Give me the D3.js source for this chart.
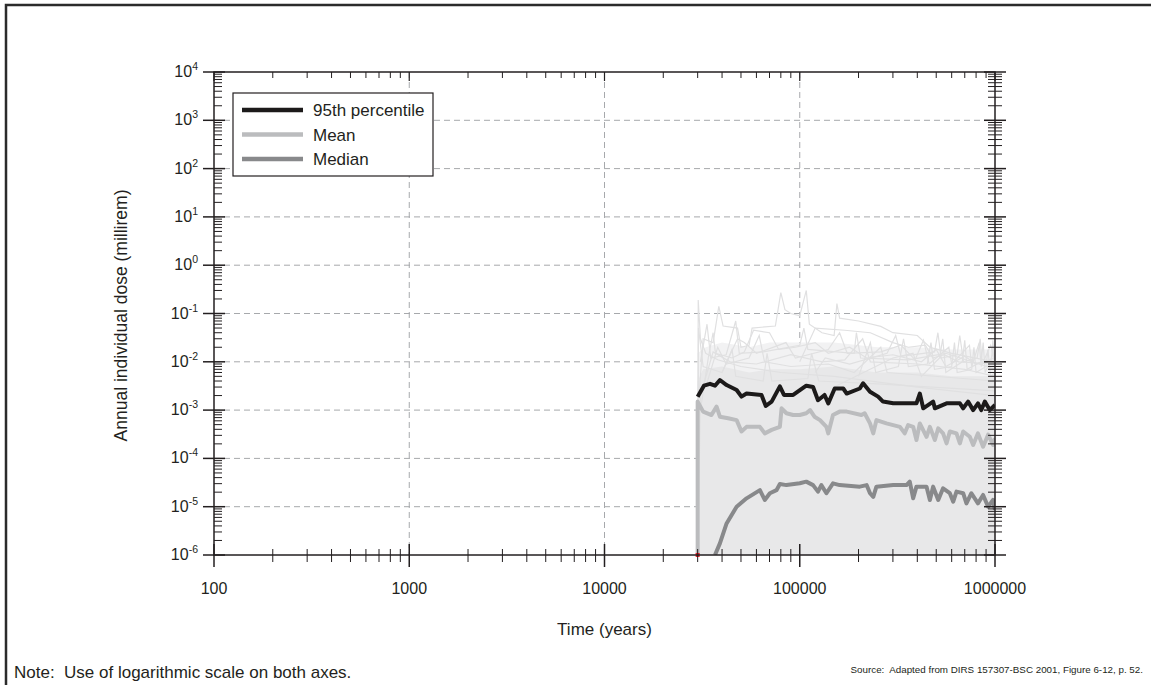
<!DOCTYPE html>
<html>
<head>
<meta charset="utf-8">
<script src="https://cdn.jsdelivr.net/npm/d3@7"></script>
<style>
    body { margin: 0; background: #fff; }
    svg text { font-family: 'Liberation Sans', Arial, Helvetica, sans-serif; fill: #231f20; }
</style>
</head>
<body>
<div id="chart"></div>
<script>
// x: time (years), y: annual individual dose (millirem)
const xTickValues = [100, 1000, 10000, 100000, 1000000];
const yExponents = [-6, -5, -4, -3, -2, -1, 0, 1, 2, 3, 4];

const percentile95 = [
    [30000, 1.9e-3], [32300, 3.2e-3], [34700, 3.5e-3], [36800, 3.2e-3], [39000, 4.2e-3],
    [42200, 3.3e-3], [47500, 2.6e-3], [50300, 1.9e-3], [53400, 2.2e-3], [63700, 2.06e-3],
    [67000, 1.22e-3], [71800, 1.5e-3], [79100, 3.1e-3], [83000, 2.06e-3], [92500, 2.06e-3],
    [108000, 3.2e-3], [117000, 3.0e-3], [124000, 1.6e-3], [134000, 2.06e-3], [140000, 1.38e-3],
    [151000, 2.8e-3], [167000, 2.8e-3], [174000, 2.2e-3], [203000, 2.8e-3], [211000, 3.6e-3],
    [229000, 2.4e-3], [252000, 1.9e-3], [267000, 1.5e-3], [301000, 1.38e-3], [396000, 1.38e-3],
    [412000, 2.2e-3], [429000, 1.09e-3], [482000, 1.5e-3], [492000, 1.09e-3], [565000, 1.38e-3],
    [661000, 1.38e-3], [687000, 1.09e-3], [728000, 1.5e-3], [773000, 1.0e-3], [818000, 1.38e-3],
    [851000, 1.0e-3], [887000, 1.5e-3], [940000, 1.0e-3], [1000000, 1.28e-3]
];

const meanDose = [
    [30000, 1e-6], [30000, 1.5e-3], [32000, 9.3e-4], [35300, 7.9e-4], [37500, 1.18e-3],
    [39000, 7.3e-4], [43000, 6.8e-4], [47500, 6.2e-4], [50300, 3.6e-4], [53400, 4.5e-4],
    [62500, 4.5e-4], [66200, 3.3e-4], [71800, 3.9e-4], [79100, 4.5e-4], [80700, 1.09e-3],
    [85500, 8.6e-4], [92500, 7.9e-4], [100000, 7.9e-4], [108000, 8.6e-4], [113000, 1.0e-3],
    [119000, 7.3e-4], [127000, 6.2e-4], [137000, 4.5e-4], [140000, 3.3e-4], [148000, 7.9e-4],
    [160000, 9.3e-4], [174000, 9.3e-4], [207000, 7.9e-4], [215000, 8.6e-4], [229000, 5.3e-4],
    [238000, 3.3e-4], [247000, 6.2e-4], [278000, 5.3e-4], [326000, 4.5e-4], [345000, 3.3e-4],
    [359000, 4.9e-4], [381000, 4.5e-4], [396000, 2.4e-4], [412000, 5.3e-4], [446000, 2.8e-4],
    [464000, 4.5e-4], [492000, 2.4e-4], [512000, 4.2e-4], [542000, 3.3e-4], [565000, 2.05e-4],
    [587000, 3.6e-4], [635000, 3.3e-4], [661000, 2.05e-4], [687000, 3.6e-4], [743000, 2.8e-4],
    [773000, 1.9e-4], [818000, 3.3e-4], [869000, 1.75e-4], [922000, 3.1e-4], [977000, 1.9e-4],
    [1000000, 2.6e-4]
];

const medianDose = [
    [36800, 1e-6], [39000, 1.74e-6], [42200, 4.5e-6], [47500, 1.0e-5], [53400, 1.49e-5],
    [62500, 2.2e-5], [66200, 1.38e-5], [70300, 1.9e-5], [76000, 2.2e-5], [79100, 2.95e-5],
    [85500, 2.8e-5], [100000, 3.05e-5], [108000, 3.3e-5], [117000, 2.8e-5], [124000, 2.05e-5],
    [129000, 2.8e-5], [137000, 1.9e-5], [148000, 3.05e-5], [160000, 2.8e-5], [203000, 2.6e-5],
    [220000, 2.8e-5], [229000, 1.9e-5], [238000, 1.6e-5], [247000, 2.6e-5], [301000, 2.8e-5],
    [352000, 2.8e-5], [366000, 3.3e-5], [381000, 1.49e-5], [396000, 2.6e-5], [446000, 2.6e-5],
    [464000, 1.38e-5], [482000, 2.6e-5], [512000, 1.38e-5], [542000, 2.4e-5], [587000, 1.9e-5],
    [611000, 1.27e-5], [635000, 2.05e-5], [687000, 1.9e-5], [714000, 1.17e-5], [757000, 1.9e-5],
    [818000, 1.17e-5], [869000, 1.75e-5], [922000, 1.0e-5], [977000, 1.38e-5], [1000000, 8.6e-6]
];

// upper edge of the dense cloud of realizations (lower edge is the axis floor)
const cloudUpper = [
    [30000, 4e-3], [32000, 7e-3], [40000, 8e-3], [55000, 6e-3], [70000, 7e-3], [100000, 7e-3],
    [150000, 8e-3], [250000, 6e-3], [400000, 6e-3], [600000, 5e-3], [1000000, 5e-3]
];

// looser upper part of the cloud
const cloudOuter = [
    [30000, 1.5e-2], [33000, 2e-2], [40000, 2.5e-2], [55000, 2e-2], [70000, 2.5e-2], [100000, 2.5e-2],
    [150000, 2.5e-2], [250000, 2e-2], [400000, 2e-2], [600000, 1.8e-2], [1000000, 1.8e-2]
];

// individual realizations standing out of the cloud
const realizations = [
    [[30000, 1e-6], [30200, 0.19], [31000, 3e-2], [33000, 1.5e-2], [38000, 1.1e-2], [50000, 8e-3],
        [80000, 6e-3], [150000, 5e-3], [400000, 3e-3], [1000000, 2e-3]],
    [[30500, 2e-3], [32000, 3e-2], [36000, 2.5e-2], [38500, 0.14], [40500, 5.5e-2], [48000, 5e-2],
        [50000, 2e-2], [55000, 2.2e-2], [57000, 5e-2], [75000, 5.5e-2], [80000, 0.27], [84000, 0.12],
        [90000, 0.1], [100000, 9e-2], [108000, 0.3], [112000, 6e-2], [130000, 4e-2], [150000, 3.5e-2],
        [155000, 0.16], [160000, 8e-2], [200000, 7e-2], [260000, 5.4e-2], [300000, 4e-2],
        [400000, 3.5e-2], [464000, 2e-2], [600000, 1.5e-2], [1000000, 1e-2]],
    [[31000, 1e-3], [34000, 1.2e-2], [36000, 4e-2], [37000, 1.5e-2], [45000, 1.2e-2], [52000, 1.6e-2],
        [58000, 4.5e-2], [70000, 4e-2], [78000, 1.8e-2], [95000, 2e-2], [120000, 2.5e-2], [140000, 1.5e-2],
        [180000, 2e-2], [220000, 1.2e-2], [300000, 1.4e-2], [420000, 1e-2], [500000, 1.8e-2],
        [560000, 8e-3], [700000, 1.3e-2], [800000, 9e-3], [1000000, 1.2e-2]],
    [[200000, 5e-3], [230000, 2.5e-2], [245000, 6e-3], [320000, 8e-3], [340000, 3e-2], [360000, 8e-3],
        [450000, 9e-3], [470000, 2.5e-2], [490000, 7e-3], [600000, 8e-3], [620000, 2.5e-2], [640000, 6e-3],
        [760000, 7e-3], [780000, 2e-2], [800000, 6e-3], [900000, 8e-3], [920000, 1.8e-2], [950000, 5e-3],
        [1000000, 6e-3]],
    [[30000, 1e-6], [30300, 5e-2], [32000, 8e-3], [40000, 6e-3], [45000, 1.8e-2], [47000, 5e-3],
        [65000, 4e-3], [68000, 1.5e-2], [72000, 4e-3], [110000, 4.5e-3], [115000, 1.5e-2], [125000, 4e-3],
        [250000, 3.5e-3], [1000000, 2.5e-3]],
    [[30000, 1e-6], [31000, 2e-3], [36000, 1.6e-2], [44000, 1e-2], [60000, 9e-3], [90000, 1.4e-2],
        [130000, 1e-2], [170000, 1.1e-2], [210000, 3e-2], [230000, 1e-2], [400000, 9e-3], [700000, 7e-3],
        [1000000, 5e-3]],
    [[150000, 3e-3], [300000, 1.2e-2], [380000, 1.5e-2], [420000, 5e-3], [520000, 1.2e-2], [540000, 3e-2],
        [560000, 6e-3], [680000, 1e-2], [700000, 2.8e-2], [720000, 7e-3], [850000, 1e-2], [870000, 2.5e-2],
        [890000, 6e-3], [980000, 1.5e-2], [1000000, 8e-3]],
    [[100000, 1e-2], [120000, 5e-2], [170000, 4.5e-2], [230000, 4e-2], [300000, 2.5e-2], [360000, 2e-2],
        [440000, 2.2e-2], [480000, 1.2e-2], [550000, 1.4e-2], [650000, 1e-2], [1000000, 9e-3]],
    [[33000, 3e-3], [38000, 2e-2], [42000, 9e-3], [55000, 1.2e-2], [62000, 3.5e-2], [66000, 1e-2],
        [90000, 8e-3], [140000, 9e-3], [190000, 6e-3], [260000, 2e-2], [280000, 6e-3], [1000000, 4e-3]],
    [[40000, 6e-3], [48000, 3e-2], [52000, 2.5e-2], [60000, 1.5e-2], [85000, 2.5e-2], [95000, 1.2e-2],
        [140000, 1.8e-2], [160000, 4e-2], [175000, 1.5e-2], [260000, 1.6e-2], [330000, 2.2e-2],
        [390000, 1.1e-2], [430000, 2.8e-2], [460000, 9e-3], [580000, 2e-2], [600000, 9e-3],
        [740000, 2.2e-2], [760000, 8e-3], [830000, 2.5e-2], [850000, 8e-3], [950000, 2.2e-2], [1000000, 1e-2]],
    [[31000, 1e-2], [33500, 6e-2], [35000, 1.2e-2], [42000, 1.4e-2], [47000, 7e-2], [49000, 1.5e-2],
        [65000, 1.6e-2], [100000, 2.2e-2], [105000, 5e-2], [110000, 1.8e-2], [190000, 1.5e-2],
        [195000, 4e-2], [205000, 1.2e-2], [360000, 1.1e-2], [560000, 1.5e-2], [1000000, 7e-3]],
    [[120000, 6e-3], [135000, 1.2e-2], [180000, 9e-3], [280000, 1.5e-2], [310000, 3.5e-2], [330000, 1.3e-2],
        [490000, 1.6e-2], [510000, 4e-2], [530000, 1.2e-2], [640000, 1.4e-2], [660000, 3.5e-2],
        [690000, 1e-2], [810000, 1.2e-2], [840000, 3e-2], [860000, 9e-3], [960000, 1.1e-2],
        [975000, 2.8e-2], [1000000, 1e-2]]
];

const legendItems = [
    {label: '95th percentile', data: percentile95, color: '#1c1a1a'},
    {label: 'Mean', data: meanDose, color: '#bbbcbe'},
    {label: 'Median', data: medianDose, color: '#88898b'}
];

class Chart {

    init() {
        this.width = 1151;
        this.height = 685;
        this.left = 214;
        this.right = 995;
        this.top = 72;
        this.bottom = 555;

        this.svg = d3.select('#chart').append('svg')
            .attr('width', this.width)
            .attr('height', this.height);

        this.x = d3.scaleLog().domain([100, 1000000]).range([this.left, this.right]);
        this.y = d3.scaleLog().domain([1e-6, 1e4]).range([this.bottom, this.top]);

        this.svg.append('clipPath').attr('id', 'plotClip')
            .append('rect')
            .attr('x', this.left).attr('y', this.top)
            .attr('width', this.right - this.left).attr('height', this.bottom - this.top);

        this.drawFrame();
        this.drawGrid();
        this.drawCloud();
        this.drawLines();
        this.drawAxes();
        this.drawLegend();
        this.drawTexts();
    }

    drawFrame() {
        this.svg.append('path')
            .attr('d', 'M6,' + this.height + 'V5H' + this.width)
            .attr('fill', 'none')
            .attr('stroke', '#2b2b2b')
            .attr('stroke-width', 2.5);
    }

    drawGrid() {
        let g = this.svg.append('g');
        g.selectAll('.vgrid').data(xTickValues.slice(1, -1)).enter().append('line')
            .attr('x1', d => this.x(d)).attr('x2', d => this.x(d))
            .attr('y1', this.top).attr('y2', this.bottom);
        g.selectAll('.hgrid').data(yExponents.slice(1, -1)).enter().append('line')
            .attr('y1', d => this.y(Math.pow(10, d))).attr('y2', d => this.y(Math.pow(10, d)))
            .attr('x1', this.left).attr('x2', this.right);
        g.selectAll('line')
            .attr('stroke', '#a7a9ac')
            .attr('stroke-width', 1)
            .attr('stroke-dasharray', '6,4');
    }

    drawCloud() {
        let g = this.svg.append('g').attr('clip-path', 'url(#plotClip)');
        let floor = this.y.domain()[0];
        let area = d3.area()
            .x(d => this.x(d[0]))
            .y0(this.y(floor))
            .y1(d => this.y(d[1]));
        g.append('path')
            .attr('d', area(cloudOuter))
            .attr('fill', '#f2f2f3');
        g.append('path')
            .attr('d', area(cloudUpper))
            .attr('fill', '#e8e8e9');

        let line = d3.line()
            .x(d => this.x(d[0]))
            .y(d => this.y(d[1]));
        g.selectAll('.real').data(realizations).enter().append('path')
            .attr('d', line)
            .attr('fill', 'none')
            .attr('stroke', '#e0e0e1')
            .attr('stroke-width', 1.2);
    }

    drawLines() {
        let g = this.svg.append('g').attr('clip-path', 'url(#plotClip)');
        let line = d3.line()
            .x(d => this.x(d[0]))
            .y(d => this.y(d[1]));
        // draw order: median, mean, then 95th on top
        [legendItems[2], legendItems[1], legendItems[0]].forEach(item => {
            g.append('path')
                .attr('d', line(item.data))
                .attr('fill', 'none')
                .attr('stroke', item.color)
                .attr('stroke-width', 4)
                .attr('stroke-linejoin', 'round');
        });
        // the red marker on the time axis where releases start
        this.svg.append('rect')
            .attr('x', this.x(30000) - 2)
            .attr('y', this.bottom - 2)
            .attr('width', 4).attr('height', 4)
            .attr('fill', '#ed1c24');
    }

    drawAxes() {
        let g = this.svg.append('g').attr('stroke', '#231f20');
        g.append('rect')
            .attr('x', this.left).attr('y', this.top)
            .attr('width', this.right - this.left).attr('height', this.bottom - this.top)
            .attr('fill', 'none')
            .attr('stroke-width', 1.5);

        let xMinor = [];
        for (let i = 0; i < xTickValues.length - 1; i++) {
            for (let k = 2; k < 10; k++) xMinor.push(xTickValues[i] * k);
        }
        let yMinor = [];
        for (let i = 0; i < yExponents.length - 1; i++) {
            for (let k = 2; k < 10; k++) yMinor.push(Math.pow(10, yExponents[i]) * k);
        }

        // bottom and top
        xTickValues.forEach(d => {
            g.append('line').attr('x1', this.x(d)).attr('x2', this.x(d))
                .attr('y1', this.bottom - 11).attr('y2', this.bottom + 12).attr('stroke-width', 1.5);
            g.append('line').attr('x1', this.x(d)).attr('x2', this.x(d))
                .attr('y1', this.top).attr('y2', this.top + 9).attr('stroke-width', 1.2);
        });
        xMinor.forEach(d => {
            g.append('line').attr('x1', this.x(d)).attr('x2', this.x(d))
                .attr('y1', this.bottom - 6).attr('y2', this.bottom + 7).attr('stroke-width', 1);
            g.append('line').attr('x1', this.x(d)).attr('x2', this.x(d))
                .attr('y1', this.top).attr('y2', this.top + 6).attr('stroke-width', 1);
        });

        // left and right
        yExponents.forEach(e => {
            let yy = this.y(Math.pow(10, e));
            g.append('line').attr('x1', this.left - 11).attr('x2', this.left + 11)
                .attr('y1', yy).attr('y2', yy).attr('stroke-width', 1.5);
            g.append('line').attr('x1', this.right - 11).attr('x2', this.right + 11)
                .attr('y1', yy).attr('y2', yy).attr('stroke-width', 1.5);
        });
        yMinor.forEach(d => {
            let yy = this.y(d);
            g.append('line').attr('x1', this.left).attr('x2', this.left + 8)
                .attr('y1', yy).attr('y2', yy).attr('stroke-width', 1);
            g.append('line').attr('x1', this.right - 7).attr('x2', this.right + 7)
                .attr('y1', yy).attr('y2', yy).attr('stroke-width', 1);
        });

        // labels
        this.svg.selectAll('.xlab').data(xTickValues).enter().append('text')
            .attr('x', d => this.x(d))
            .attr('y', 594)
            .attr('text-anchor', 'middle')
            .style('font-size', '16px')
            .text(d => d3.format('d')(d));

        let ylab = this.svg.selectAll('.ylab').data(yExponents).enter().append('text')
            .attr('x', 198)
            .attr('y', e => this.y(Math.pow(10, e)) + 5)
            .attr('text-anchor', 'end')
            .style('font-size', '16px');
        ylab.append('tspan').text('10');
        ylab.append('tspan')
            .attr('dy', -7)
            .style('font-size', '10.5px')
            .text(e => e);

        this.svg.append('text')
            .attr('x', (this.left + this.right) / 2)
            .attr('y', 635)
            .attr('text-anchor', 'middle')
            .style('font-size', '17px')
            .text('Time (years)');

        this.svg.append('text')
            .attr('transform', 'translate(127,' + ((this.top + this.bottom) / 2 + 2) + ') rotate(-90)')
            .attr('text-anchor', 'middle')
            .style('font-size', '17.5px')
            .text('Annual individual dose (millirem)');
    }

    drawLegend() {
        let g = this.svg.append('g');
        g.append('rect')
            .attr('x', 233).attr('y', 93)
            .attr('width', 200).attr('height', 83)
            .attr('fill', '#fff')
            .attr('stroke', '#231f20')
            .attr('stroke-width', 1.2);
        let rows = g.selectAll('.leg').data(legendItems).enter().append('g')
            .attr('transform', (d, i) => 'translate(0,' + (110 + i * 24.5) + ')');
        rows.append('line')
            .attr('x1', 242).attr('x2', 303)
            .attr('stroke', d => d.color)
            .attr('stroke-width', 4.5);
        rows.append('text')
            .attr('x', 313).attr('y', 6)
            .style('font-size', '17px')
            .text(d => d.label);
    }

    drawTexts() {
        this.svg.append('text')
            .attr('x', 14).attr('y', 678)
            .attr('xml:space', 'preserve')
            .style('white-space', 'pre')
            .style('font-size', '17px')
            .text('Note:  Use of logarithmic scale on both axes.');
        this.svg.append('text')
            .attr('x', 1143).attr('y', 673)
            .attr('text-anchor', 'end')
            .attr('xml:space', 'preserve')
            .style('white-space', 'pre')
            .style('font-size', '9.8px')
            .text('Source:  Adapted from DIRS 157307-BSC 2001, Figure 6-12, p. 52.');
    }
}

window.chart = new Chart();
window.chart.init();
</script>
</body>
</html>
